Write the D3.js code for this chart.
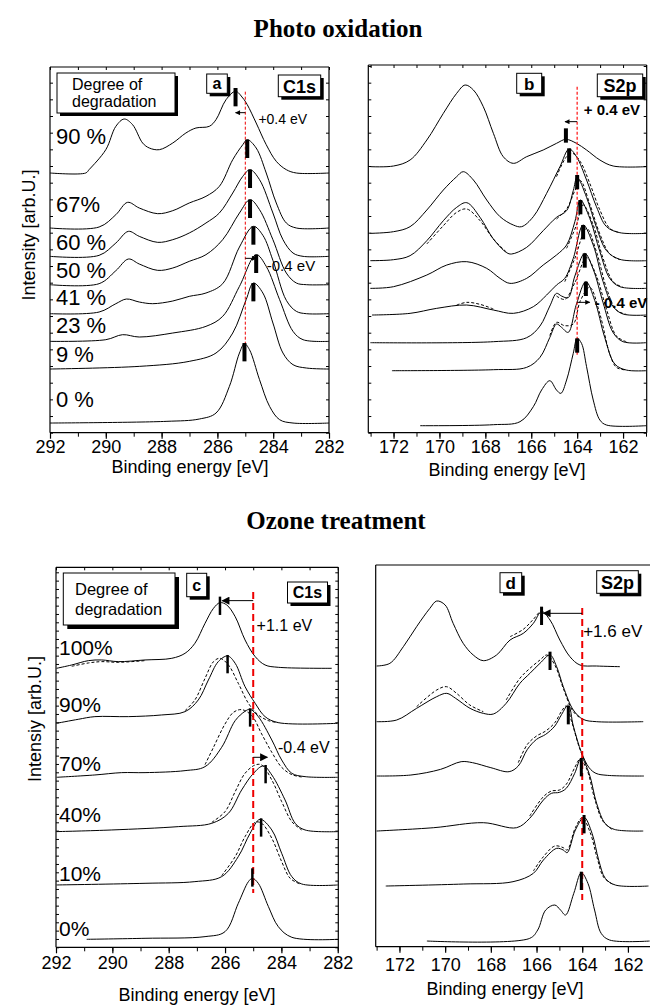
<!DOCTYPE html>
<html>
<head>
<meta charset="utf-8">
<script src="https://cdn.jsdelivr.net/npm/d3@7"></script>
<style>
  body { margin: 0; background: #fff; }
  svg { display: block; }
  text { font-family: Arial, "Liberation Sans", sans-serif; fill: #000; }
</style>
</head>
<body>
<svg id="chart" width="650" height="1006"></svg>
<script>
// ---- data: [binding energy eV, intensity above baseline] ----

var ticksA = [292, 290, 288, 286, 284, 282];
var minorA = [292, 291, 290, 289, 288, 287, 286, 285, 284, 283, 282];
var ticksS = [172, 170, 168, 166, 164, 162];
var minorS = [173, 172, 171, 170, 169, 168, 167, 166, 165, 164, 163, 162, 161];

// panel a : C1s, photo oxidation
var degA = ["90 %", "67%", "60 %", "50 %", "41 %", "23 %", "9 %", "0 %"];
var offsetsA = [77.9, 61.4, 52.9, 44.4, 35.7, 27.4, 19.1, 2.9];
var spectraA = [
  [[292,0],[290.72,0],[290.6,1],[290.0,7],[289.64,14],[289.34,16.2],[289.04,14.5],[288.68,9],[288.44,7.5],[288.08,7],[287.6,9],[287.13,12],[286.77,13.5],[286.29,14],[286.05,16],[285.69,22],[285.35,24.5],[285.09,22.5],[284.93,20.5],[284.61,15],[284.25,8.5],[283.89,3.5],[283.53,1],[283.17,0],[282,0]],
  [[292,0],[290.24,0.3],[289.64,4],[289.22,7.7],[288.8,6],[288.14,4.3],[287.6,5.2],[287.01,7.5],[286.41,9.5],[285.93,12.5],[285.45,20.5],[285.09,25],[284.93,26.5],[284.61,24],[284.25,16.5],[283.89,7.5],[283.53,1.5],[283.17,0],[282,0]],
  [[292,0],[290.24,0.3],[289.64,4],[289.19,7.5],[288.8,6],[288.14,4.2],[287.6,5],[287.01,7],[286.41,10],[285.93,13],[285.45,19],[285.09,24],[284.83,26],[284.49,23],[284.01,13],[283.65,5],[283.29,1],[282.93,0],[282,0]],
  [[292,0],[290.24,0.3],[289.64,4.2],[289.19,7.7],[288.8,6.2],[288.14,4.3],[287.6,5],[287.01,7],[286.41,9],[285.81,13.5],[285.21,21.5],[284.83,25.5],[284.49,22.5],[284.01,13.5],[283.53,3.5],[283.17,0.5],[282.81,0],[282,0]],
  [[292,0],[290.24,0.5],[289.64,3],[289.26,4.4],[288.8,3.5],[288.32,3],[287.6,3.8],[287.01,5.2],[286.41,6.2],[285.81,9],[285.21,20],[284.71,26.2],[284.37,23.5],[284.01,16],[283.53,4],[283.17,0.7],[282.81,0],[282,0]],
  [[292,0],[290.0,0.5],[289.4,2],[288.8,1.3],[287.6,2.5],[286.41,4.5],[285.81,7.5],[285.21,16.5],[284.61,26],[284.25,22.5],[283.77,12.5],[283.29,3],[282.93,0.5],[282,0]],
  [[292,0],[288.8,0.8],[287.01,2.3],[286.05,4.8],[285.45,10.8],[284.97,20.8],[284.71,25.8],[284.37,22.8],[284.01,13.8],[283.65,4.8],[283.29,1.3],[282.81,0.3],[282,0]],
  [[292,0],[287.84,0.5],[286.65,1.2],[286.05,3],[285.57,11],[285.21,21],[285.03,23.8],[284.85,22],[284.49,13],[284.13,5],[283.77,1],[283.29,0],[282,0]]
];
var peaksA = [[285.35,25.5],[284.93,26.5],[284.83,26],[284.83,25.5],[284.71,26.2],[284.61,26],[284.71,25.8],[285.03,24]];

// panel b : S2p, photo oxidation (solid measured, dashed fit)
var offsetsB = [79.8, 59.8, 51.6, 43.3, 35.3, 27, 18.6, 2.1];
var spectraB = [
  [[173.01,0],[172.0,0.2],[171.28,2],[170.55,8],[169.83,16],[169.25,22],[168.88,24.5],[168.52,23],[168.09,18],[167.65,10],[167.22,3],[166.78,1],[166.2,3],[165.48,5],[164.9,7],[164.49,8.2],[164.03,7],[163.59,5],[163.01,2],[162.43,0.2],[160.99,0]],
  [[173.01,0],[172.0,0.5],[171.28,2],[170.55,7],[169.83,13],[169.25,17],[168.96,18.5],[168.52,16],[167.94,10],[167.36,5],[166.78,2.5],[166.42,2],[165.91,5],[165.33,12],[164.75,20],[164.35,25.3],[164.03,23],[163.59,16],[163.16,8],[162.72,2],[162.14,0.2],[160.99,0]],
  [[173.01,0],[172.0,0.3],[171.28,1.5],[170.55,6],[169.83,12],[169.25,16],[168.81,17.4],[168.23,13],[167.65,6.5],[167.07,2.4],[166.86,2],[166.2,4],[165.48,9],[164.9,13],[164.46,15],[164.17,21],[164.0,25],[163.59,19],[163.16,10],[162.72,3],[162.14,0.4],[160.99,0]],
  [[173.01,0],[172.0,0.5],[170.55,4],[169.68,7],[168.81,8],[167.94,6],[167.36,3],[166.93,1.5],[166.2,3],[165.48,7],[164.9,10],[164.46,13],[164.1,20],[163.86,26.5],[163.45,21],[163.01,11],[162.58,3],[162.14,0.5],[160.99,0]],
  [[172.94,0],[171.28,0.5],[170.12,2],[168.81,3],[167.65,1.5],[166.78,0.5],[165.91,2.5],[165.33,6],[164.9,9],[164.54,11],[164.17,17],[163.74,27],[163.3,21],[162.87,10],[162.43,2.5],[162.0,0.3],[160.99,0]],
  [[173.01,0],[167.65,0.3],[166.2,1.5],[165.62,5],[165.19,11],[164.9,14.8],[164.68,14],[164.39,13.5],[164.1,20],[163.67,26.8],[163.3,22],[162.87,12],[162.43,3],[162.0,0.3],[160.99,0]],
  [[172.07,0],[167.65,0.3],[166.2,1],[165.62,4],[165.19,10],[164.9,14],[164.68,13],[164.39,11.5],[164.03,20],[163.62,26.7],[163.23,21],[162.8,10],[162.36,2],[161.86,0.2],[160.99,0]],
  [[170.84,0],[167.65,0.3],[166.49,1.2],[165.91,5.7],[165.55,10.7],[165.19,13.5],[164.9,10.7],[164.71,9.7],[164.46,13.7],[164.17,21.7],[164.0,26.2],[163.81,24.7],[163.59,17.7],[163.3,7.7],[163.01,1.7],[162.72,0.2],[160.99,0]]
];
var dashedB = [
  [],
  [[[164.9,17],[164.46,23],[164.2,24],[163.86,21.5],[163.45,15],[163.01,7],[162.58,1.5],[162.14,0.2]]],
  [[[170.55,5],[169.83,10.5],[169.25,14.5],[168.81,15.5],[168.23,12],[167.65,6.5],[167.07,2.5]],
   [[164.9,12.5],[164.46,15.5],[164.1,21],[163.86,24],[163.45,17],[163.01,8],[162.58,2],[162.14,0.3]]],
  [[[164.46,12],[164.03,19],[163.74,25],[163.3,19],[162.87,9],[162.43,2],[162.0,0.3]]],
  [[[169.25,3],[168.81,3.8],[168.23,3.2],[167.65,1.8]],
   [[164.54,10],[164.1,17],[163.59,26],[163.16,19],[162.72,8],[162.29,1.5],[161.86,0.2]]],
  [[[164.9,14],[164.54,13],[164.1,18],[163.59,25.5],[163.16,20],[162.72,10],[162.29,2],[161.86,0.3]]],
  [[[165.19,10.5],[164.9,14.5],[164.54,13.5],[164.17,14],[163.86,21],[163.45,25],[163.01,17],[162.58,5],[162.29,1],[161.86,0.2]]],
  []
];
var peaksB = [[164.49,11.5],[164.35,25.5],[164.0,25.7],[163.86,26.5],[163.74,27],[163.67,26.8],[163.62,26.7],[164.0,26.2]];

// panel c : C1s, ozone treatment
var degC = ["100%", "90%", "70%", "40%", "10%", "0%"];
var offsetsC = [83.7, 67.2, 51.0, 34.7, 18.7, 2.4];
var spectraC = [
  [[291.98,0],[291.44,1],[290.85,2.3],[290.38,2.5],[289.79,2],[288.84,2.5],[287.89,3],[287.42,4.5],[287.07,7.5],[286.71,13.5],[286.41,18],[286.18,19.7],[285.94,19],[285.64,15.5],[285.29,8.5],[284.93,3.5],[284.58,1],[284.11,0.3],[282.21,0]],
  [[291.98,0],[291.21,1.2],[290.62,2],[289.43,2],[288.25,2.5],[287.42,3.5],[286.95,7],[286.59,13],[286.24,18.5],[285.91,20.2],[285.64,18],[285.29,11],[284.93,6],[284.58,2],[284.11,0.2],[282,0]],
  [[291.98,0],[290.62,0.7],[289.67,1.4],[288.84,1.4],[287.42,2],[286.71,3.2],[286.12,9],[285.64,17],[285.29,19.8],[285.11,20.4],[284.82,18.2],[284.34,11.2],[283.99,5.2],[283.63,1.2],[283.16,0.2],[282,0]],
  [[291.98,0],[290.02,0.5],[287.66,1.5],[286.47,2.5],[285.88,5.5],[285.41,12.5],[284.99,17.5],[284.64,19.7],[284.34,17],[283.87,9.5],[283.51,2.5],[283.16,0.5],[282,0]],
  [[291.98,0],[288.84,0.5],[287.07,1],[286.12,2.5],[285.53,8.5],[285.11,15.5],[284.76,19.7],[284.34,16.5],[283.99,9.5],[283.63,2.5],[283.28,0.3],[282,0]],
  [[290.91,0],[288.84,0.3],[286.71,0.8],[286.0,2.3],[285.53,10.8],[285.17,17.3],[285.03,18.3],[284.82,16.8],[284.46,9.8],[284.11,3.8],[283.63,0.6],[282,0]]
];
var dashedC = [
  [[[291.44,0.6],[290.85,1.6],[290.38,2],[289.79,1.8],[288.84,2.3]]],
  [[[287.42,3.8],[287.07,7],[286.71,13.5],[286.41,18.5],[286.18,19.5],[285.88,17.5],[285.53,12],[285.17,6],[284.82,2.5],[284.46,0.8],[284.11,0.2]]],
  [[[286.71,3.8],[286.41,9],[286.0,16],[285.7,19.5],[285.41,20.3],[285.05,18.5],[284.7,13],[284.34,7.5],[283.99,3],[283.63,0.8],[283.28,0.1]]],
  [[[286.47,2.8],[286.0,6],[285.64,12],[285.29,17.5],[284.93,20],[284.7,20],[284.34,15.5],[283.99,9],[283.63,3],[283.28,0.5]]],
  [[[286.12,2.8],[285.64,8.5],[285.29,14.5],[284.93,18.8],[284.7,18.5],[284.34,14],[283.99,7],[283.69,2],[283.34,0.3]]],
  []
];
var peaksC = [[286.18,21.5],[285.91,20.5],[285.11,20.7],[284.56,20],[284.72,20],[285.03,21.3]];

// panel d : S2p, ozone treatment
var offsetsD = [84.2, 67.5, 51.2, 34.7, 18.2, 1.7];
var spectraD = [
  [[173.0,0],[172.42,0.8],[171.83,5.8],[171.25,11.8],[170.67,17.3],[170.37,19.5],[170.0,18.3],[169.65,12.8],[169.21,6.8],[168.77,3.3],[168.33,1.6],[167.75,3.3],[167.16,7.8],[166.58,9.8],[166.14,12.8],[165.78,16.3],[165.41,13.8],[164.98,7.8],[164.54,2.8],[164.1,0.3],[163.37,0],[162.35,-0.2]],
  [[173.0,0],[172.12,0.5],[171.25,4],[170.37,7.5],[169.93,8.5],[169.54,7],[168.91,4],[168.33,2.5],[167.89,2.3],[167.33,5.5],[166.73,11.5],[166.29,14.5],[165.85,17.5],[165.41,20],[165.12,16.5],[164.83,10.5],[164.39,3.5],[163.96,0.7],[163.37,0],[161.33,0]],
  [[173.0,0],[171.5,0.3],[170.2,2],[169.3,4.3],[168.8,4],[168.0,2.5],[167.2,1.3],[166.8,3],[166.4,8],[166.0,11],[165.6,12.5],[165.2,15],[164.9,18.5],[164.61,21.3],[164.39,15],[164.03,7],[163.7,2.5],[163.4,0.8],[162.9,0.2],[161.3,0]],
  [[173.0,0],[170.5,1],[168.33,2.5],[166.87,1],[166.3,3.8],[165.7,9.3],[165.35,11.3],[165.0,11.6],[164.7,12.8],[164.33,17.3],[164.04,21.9],[163.7,17.3],[163.37,8.3],[163.0,2.3],[162.6,0.5],[161.33,0]],
  [[172.6,0],[169.21,0.6],[167.03,1.3],[166.14,3.8],[165.7,7.8],[165.12,11.3],[164.83,10.8],[164.66,10],[164.3,16.8],[163.92,20.6],[163.57,15.8],[163.28,7.8],[162.99,2.3],[162.55,0.3],[161.1,0]],
  [[170.8,0],[166.3,0.8],[165.95,3.3],[165.6,9.3],[165.2,10.8],[164.95,9.3],[164.73,7.8],[164.37,14.3],[164.04,20.5],[163.75,17.3],[163.46,9.3],[163.17,2.3],[162.8,0.3],[161.05,0]]
];
var dashedD = [
  [[[167.16,8.8],[166.58,11],[166.14,14],[165.78,16.5],[165.5,15]]],
  [[[171.25,4.5],[170.37,9.5],[169.94,10.5],[169.5,8.5],[168.92,5],[168.33,3]],
   [[167.33,6.5],[166.73,13],[166.29,16],[165.85,18.5],[165.55,20],[165.2,17],[164.83,10],[164.39,3],[163.96,0.5]]],
  [[[166.8,4],[166.4,9.5],[166.0,12],[165.6,13.5],[165.2,16],[164.9,19.5],[164.7,21],[164.45,16],[164.1,8],[163.8,3]]],
  [[[166.3,4.5],[165.7,10.3],[165.35,12],[165.0,12.3],[164.7,14],[164.33,19],[164.1,21.5],[163.8,18.5],[163.45,9.5],[163.1,3],[162.7,0.5]]],
  [[[166.14,4.5],[165.7,8.8],[165.2,12],[164.83,11.5],[164.66,10.8],[164.3,17.5],[164.0,20.5],[163.65,16],[163.35,8.5],[163.05,2.5],[162.6,0.3]]],
  []
];
var peaksD = [[165.78,17.8],[165.41,21],[164.61,21],[164.04,21.9],[163.92,21.3],[164.04,20.8]];

// ---- layout ----
var svg = d3.select("#chart");
var defs = svg.append("defs");

function arrowDef(id, w, h) {
  defs.append("marker").attr("id", id)
    .attr("viewBox", "0 0 10 10").attr("refX", 9).attr("refY", 5)
    .attr("markerWidth", w).attr("markerHeight", h)
    .attr("markerUnits", "userSpaceOnUse").attr("orient", "auto")
    .append("path").attr("d", "M0,0L10,5L0,10z").attr("fill", "#000");
}
arrowDef("arrS", 6, 5);
arrowDef("arrL", 10, 8);

function drawPanel(p) {
  var x = d3.scaleLinear().domain(p.xDomain).range([p.left, p.right]);
  var y = d3.scaleLinear().domain([0, p.yMax]).range([p.bottom, p.top]);
  var g = svg.append("g");

  // spectra
  p.spectra.forEach(function(s, i) {
    var off = p.offsets[i];
    var line = d3.line().x(d => x(d[0])).y(d => y(off + d[1])).curve(d3.curveCatmullRom.alpha(0.5));
    g.append("path").datum(s)
      .attr("fill", "none").attr("stroke", "#000").attr("stroke-width", 1)
      .attr("d", line);
    ((p.dashed && p.dashed[i]) || []).forEach(function(seg) {
      g.append("path").datum(seg)
        .attr("fill", "none").attr("stroke", "#000").attr("stroke-width", 1)
        .attr("stroke-dasharray", "3,2")
        .attr("d", line);
    });
  });

  // red reference line
  g.append("line")
    .attr("x1", x(p.ref[0])).attr("x2", x(p.ref[0]))
    .attr("y1", y(p.ref[1])).attr("y2", y(p.ref[2]))
    .attr("stroke", p.refColor).attr("stroke-width", p.refW)
    .attr("stroke-dasharray", p.refDash);

  // peak markers
  p.peaks.forEach(function(m, i) {
    var top = p.offsets[i] + m[1];
    g.append("line")
      .attr("x1", x(m[0])).attr("x2", x(m[0]))
      .attr("y1", y(top)).attr("y2", y(top - p.markLen))
      .attr("stroke", "#000").attr("stroke-width", p.markW);
  });

  // frame
  var fr = g.append("g").attr("fill", "none").attr("stroke", "#000").attr("stroke-width", 1.2);
  fr.append("line").attr("x1", p.left).attr("x2", p.right).attr("y1", p.top).attr("y2", p.top);
  fr.append("line").attr("x1", p.left).attr("x2", p.right).attr("y1", p.bottom).attr("y2", p.bottom);
  fr.append("line").attr("x1", p.left).attr("x2", p.left).attr("y1", p.top).attr("y2", p.bottom);
  fr.append("line").attr("x1", p.right).attr("x2", p.right).attr("y1", p.top).attr("y2", p.bottom);

  // bottom axis, major + minor
  var ax = g.append("g").attr("transform", `translate(0,${p.bottom})`)
    .call(d3.axisBottom(x).tickValues(p.major).tickSize(6).tickPadding(p.pad).tickFormat(d3.format("d")));
  ax.select(".domain").remove();
  ax.selectAll("line").attr("stroke", "#000").attr("stroke-width", 1.2);
  ax.selectAll("text").attr("font-size", 18).attr("font-family", "Arial, 'Liberation Sans', sans-serif").attr("fill", "#000");

  var mn = g.append("g").attr("transform", `translate(0,${p.bottom})`)
    .call(d3.axisBottom(x).tickValues(p.minor).tickSize(4).tickFormat(""));
  mn.select(".domain").remove();
  mn.selectAll("line").attr("stroke", "#000").attr("stroke-width", 1);

  // small inward ticks on the other sides
  if (p.boxTicks) {
    var tp = g.append("g").attr("transform", `translate(0,${p.top})`)
      .call(d3.axisTop(x).tickValues(p.minor).tickSize(-3).tickFormat(""));
    tp.select(".domain").remove();
    var yt = d3.range(0, p.yMax, p.yStep);
    var lf = g.append("g").attr("transform", `translate(${p.left},0)`)
      .call(d3.axisLeft(y).tickValues(yt).tickSize(-3).tickFormat(""));
    lf.select(".domain").remove();
    var rt = g.append("g").attr("transform", `translate(${p.right},0)`)
      .call(d3.axisRight(y).tickValues(yt).tickSize(-3).tickFormat(""));
    rt.select(".domain").remove();
    g.selectAll(".tick line").attr("stroke", "#000");
  }

  // axis title
  g.append("text").attr("x", p.titleX).attr("y", p.titleY)
    .attr("text-anchor", "middle").attr("font-size", 18)
    .text("Binding energy [eV]");

  return { x: x, y: y, g: g };
}

function box(x0, y0, w, h, sh, lines, size, bold, anchor) {
  svg.append("rect").attr("x", x0 + sh).attr("y", y0 + sh).attr("width", w).attr("height", h).attr("fill", "#000");
  svg.append("rect").attr("x", x0).attr("y", y0).attr("width", w).attr("height", h)
    .attr("fill", "#fff").attr("stroke", "#000").attr("stroke-width", 1);
  lines.forEach(function(l) {
    svg.append("text").attr("x", l[1]).attr("y", l[2])
      .attr("font-size", size).attr("font-weight", bold ? "bold" : "normal")
      .attr("text-anchor", anchor || "middle").text(l[0]);
  });
}

function arrow(pn, e0, e1, v, id) {
  pn.g.append("line")
    .attr("x1", pn.x(e0)).attr("x2", pn.x(e1))
    .attr("y1", pn.y(v)).attr("y2", pn.y(v))
    .attr("stroke", "#000").attr("stroke-width", 1)
    .attr("marker-end", `url(#${id})`);
}

function note(pn, e, v, txt, size, bold) {
  pn.g.append("text").attr("x", pn.x(e)).attr("y", pn.y(v))
    .attr("font-size", size).attr("font-weight", bold ? "bold" : "normal").text(txt);
}

// titles
svg.append("text").attr("x", 338).attr("y", 37).attr("text-anchor", "middle")
  .style("font-family", "'Liberation Serif', 'Times New Roman', serif")
  .attr("font-size", 25).attr("font-weight", "bold").text("Photo oxidation");
svg.append("text").attr("x", 336).attr("y", 529).attr("text-anchor", "middle")
  .style("font-family", "'Liberation Serif', 'Times New Roman', serif")
  .attr("font-size", 25).attr("font-weight", "bold").text("Ozone treatment");

// panel a
var pa = drawPanel({
  left: 50, right: 329, top: 67, bottom: 432.7, xDomain: [292, 282], yMax: 109.7,
  spectra: spectraA, offsets: offsetsA, peaks: peaksA, markLen: 5.5, markW: 4,
  ref: [285.0, 102.3, 24.9], refColor: "#e00", refW: 1, refDash: "3,2",
  major: ticksA, minor: minorA, pad: 2, boxTicks: true, yStep: 5,
  titleX: 190, titleY: 473
});
arrow(pa, 285.0, 285.35, 96, "arrS");
arrow(pa, 285.0, 284.6, 52.3, "arrS");
note(pa, 284.53, 92.6, "+0.4 eV", 14);
note(pa, 284.23, 48.6, "-0.4 eV", 15);
degA.forEach(function(t, i) {
  var ly = [144, 211.7, 250, 278.3, 305, 332.7, 361.7, 406.7][i];
  svg.append("text").attr("x", 56).attr("y", ly).attr("font-size", 22).text(t);
});
box(57, 73, 118, 40, 3, [["Degree of", 72, 90], ["degradation", 72, 106.5]], 16, false, "start");
box(206.7, 74, 20.6, 19.3, 3, [["a", 217, 89]], 16, true);
box(278.3, 75, 42.4, 21.7, 3, [["C1s", 299.5, 92.5]], 18, true);
svg.append("text").attr("transform", "translate(35,235) rotate(-90)")
  .attr("text-anchor", "middle").attr("font-size", 18).text("Intensity [arb.U.]");

// panel b
var pb = drawPanel({
  left: 368.3, right: 646.7, top: 65, bottom: 432.7, xDomain: [173.1, 160.97], yMax: 110.3,
  spectra: spectraB, offsets: offsetsB, dashed: dashedB, peaks: peaksB, markLen: 4.3, markW: 4,
  ref: [164.0, 103.8, 23.4], refColor: "#f22", refW: 1.3, refDash: "3,2",
  major: ticksS, minor: minorS, pad: 2, boxTicks: true, yStep: 5,
  titleX: 507, titleY: 476
});
arrow(pb, 164.0, 164.53, 93.3, "arrS");
arrow(pb, 164.0, 163.45, 39.1, "arrS");
note(pb, 163.71, 95.3, "+ 0.4 eV", 15, true);
note(pb, 163.23, 37.3, "- 0.4 eV", 15, true);
box(516.7, 73.3, 25, 20, 3, [["b", 529.2, 89.5]], 17, true);
box(597.3, 74, 45.4, 22.7, 3, [["S2p", 620, 92]], 18, true);

// panel c
var pc = drawPanel({
  left: 56, right: 338.3, top: 567.3, bottom: 947.3, xDomain: [292, 281.98], yMax: 114,
  spectra: spectraC, offsets: offsetsC, dashed: dashedC, peaks: peaksC, markLen: 5.5, markW: 2.5,
  ref: [285.0, 106.6, 16.3], refColor: "#e00", refW: 2, refDash: "7,4",
  major: ticksA, minor: minorA, pad: 3, boxTicks: true, yStep: 2.5,
  titleX: 197, titleY: 1001
});
arrow(pc, 285.0, 286.1, 104, "arrL");
arrow(pc, 285.0, 284.5, 57, "arrL");
note(pc, 284.88, 95, "+1.1 eV", 16);
note(pc, 284.12, 58.4, "-0.4 eV", 16);
degC.forEach(function(t, i) {
  var ly = [655, 711.7, 770.7, 821.7, 880.7, 936][i];
  svg.append("text").attr("x", 59).attr("y", ly).attr("font-size", 21).text(t);
});
box(63.3, 573, 111.7, 52, 4, [["Degree of", 75, 595], ["degradation", 75, 615]], 16.5, false, "start");
box(186.7, 573.3, 20, 23.4, 3, [["c", 196.7, 591]], 16, true);
box(287.5, 582, 40, 21, 3, [["C1s", 307.5, 598]], 16, true);
svg.append("text").attr("transform", "translate(41,719) rotate(-90)")
  .attr("text-anchor", "middle").attr("font-size", 18).text("Intensiy [arb.U.]");

// panel d
var pd = drawPanel({
  left: 375.7, right: 651, top: 565, bottom: 946.7, xDomain: [173.04, 160.99], yMax: 114.5,
  spectra: spectraD, offsets: offsetsD, dashed: dashedD, peaks: peaksD, markLen: 5.5, markW: 3,
  ref: [164.0, 101.6, 14.0], refColor: "#e00", refW: 2, refDash: "7,4",
  major: ticksS, minor: minorS, pad: 6, boxTicks: false,
  titleX: 505, titleY: 995
});
arrow(pd, 164.0, 165.7, 100, "arrL");
note(pd, 163.96, 93, "+1.6 eV", 17);
box(500, 572.7, 21.7, 20, 3, [["d", 510.8, 588.5]], 17, true);
box(596.7, 570.7, 41.6, 22.6, 3, [["S2p", 617.5, 589]], 18, true);
</script>
</body>
</html>
